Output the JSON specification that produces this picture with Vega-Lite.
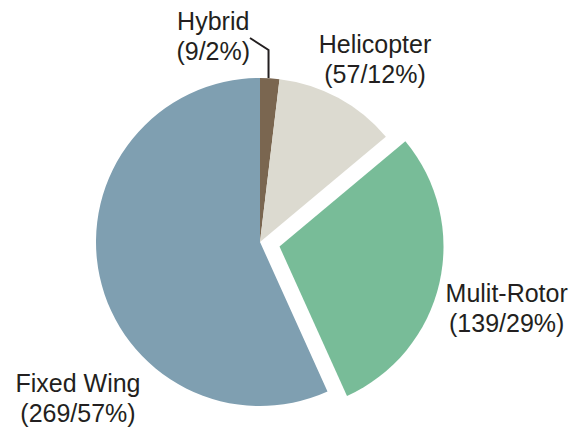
{
  "$schema": "https://vega.github.io/schema/vega-lite/v6.json",
  "width": 328,
  "height": 328,
  "autosize": "none",
  "padding": {"left": 96, "top": 78, "right": 149, "bottom": 22},
  "background": "white",
  "config": {"view": {"stroke": null}},
  "datasets": {
    "slices": [
      {"type": "Hybrid", "count": 9, "order": 1, "label": "Hybrid\n(9/2%)"},
      {"type": "Helicopter", "count": 57, "order": 2, "label": "Helicopter\n(57/12%)"},
      {"type": "Mulit-Rotor", "count": 139, "order": 3, "label": "Mulit-Rotor\n(139/29%)"},
      {"type": "Fixed Wing", "count": 269, "order": 4, "label": "Fixed Wing\n(269/57%)"}
    ],
    "leader": [
      {"seq": 1, "px": -0.061, "py": 1.244},
      {"seq": 2, "px": 0.052, "py": 1.171},
      {"seq": 3, "px": 0.052, "py": 1.0}
    ]
  },
  "layer": [
    {
      "data": {"name": "slices"},
      "mark": {"type": "arc", "outerRadius": 164},
      "encoding": {
        "theta": {"field": "count", "type": "quantitative", "stack": true},
        "order": {"field": "order", "type": "quantitative"},
        "color": {"field": "type", "type": "nominal", "legend": null,
          "scale": {"domain": ["Hybrid", "Helicopter", "Mulit-Rotor", "Fixed Wing"],
                    "range": ["#7a6650", "#dcdad0", "#78bc98", "#7f9fb1"]}},
        "opacity": {"condition": {"test": "datum.type === 'Mulit-Rotor'", "value": 0}, "value": 1}
      }
    },
    {
      "data": {"name": "slices"},
      "mark": {"type": "arc", "outerRadius": 164, "xOffset": 19.5, "yOffset": 4.5},
      "encoding": {
        "theta": {"field": "count", "type": "quantitative", "stack": true},
        "order": {"field": "order", "type": "quantitative"},
        "color": {"field": "type", "type": "nominal", "legend": null},
        "opacity": {"condition": {"test": "datum.type === 'Mulit-Rotor'", "value": 1}, "value": 0}
      }
    },
    {
      "data": {"name": "slices"},
      "mark": {"type": "text", "dx": -59, "dy": -15.4, "fontSize": 25, "font": "Liberation Sans", "lineBreak": "\n", "lineHeight": 30, "align": "center", "baseline": "middle", "fill": "#231f20"},
      "encoding": {
        "theta": {"field": "count", "type": "quantitative", "stack": true},
        "order": {"field": "order", "type": "quantitative"},
        "radius": {"value": 205},
        "text": {"condition": {"test": "datum.type === 'Hybrid'", "field": "label"}, "value": ""}
      }
    },
    {
      "data": {"name": "slices"},
      "mark": {"type": "text", "dx": 12, "dy": -7, "fontSize": 25, "font": "Liberation Sans", "lineBreak": "\n", "lineHeight": 30, "align": "center", "baseline": "middle", "fill": "#231f20"},
      "encoding": {
        "theta": {"field": "count", "type": "quantitative", "stack": true},
        "order": {"field": "order", "type": "quantitative"},
        "radius": {"value": 216},
        "text": {"condition": {"test": "datum.type === 'Helicopter'", "field": "label"}, "value": ""}
      }
    },
    {
      "data": {"name": "slices"},
      "mark": {"type": "text", "dx": 3, "dy": -4, "fontSize": 25, "font": "Liberation Sans", "lineBreak": "\n", "lineHeight": 30, "align": "center", "baseline": "middle", "fill": "#231f20"},
      "encoding": {
        "theta": {"field": "count", "type": "quantitative", "stack": true},
        "order": {"field": "order", "type": "quantitative"},
        "radius": {"value": 250},
        "text": {"condition": {"test": "datum.type === 'Mulit-Rotor'", "field": "label"}, "value": ""}
      }
    },
    {
      "data": {"name": "slices"},
      "mark": {"type": "text", "dx": 13.5, "dy": 100, "fontSize": 25, "font": "Liberation Sans", "lineBreak": "\n", "lineHeight": 30, "align": "center", "baseline": "middle", "fill": "#231f20"},
      "encoding": {
        "theta": {"field": "count", "type": "quantitative", "stack": true},
        "order": {"field": "order", "type": "quantitative"},
        "radius": {"value": 200},
        "text": {"condition": {"test": "datum.type === 'Fixed Wing'", "field": "label"}, "value": ""}
      }
    },
    {
      "data": {"name": "leader"},
      "mark": {"type": "line", "stroke": "#231f20", "strokeWidth": 2},
      "encoding": {
        "x": {"field": "px", "type": "quantitative", "axis": null, "scale": {"domain": [-1, 1], "nice": false, "zero": false}},
        "y": {"field": "py", "type": "quantitative", "axis": null, "scale": {"domain": [-1, 1], "nice": false, "zero": false}},
        "order": {"field": "seq", "type": "quantitative"}
      }
    }
  ]
}
